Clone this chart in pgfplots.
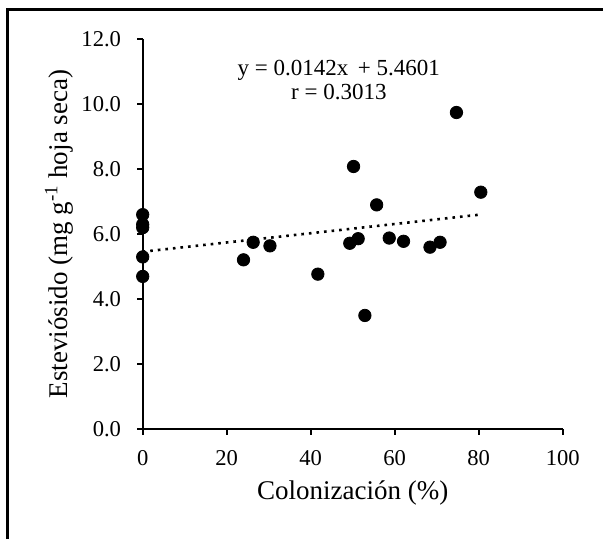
\documentclass[border=0pt]{standalone}
\usepackage{fontspec}
\setmainfont{Liberation Serif}
\usepackage{pgfplots}
\pgfplotsset{compat=1.18}

\begin{document}
\begin{tikzpicture}
\begin{axis}[
  at={(0,0)}, anchor=south west,
  scale only axis, width=210pt, height=195.15pt,
  xmin=0, xmax=100, ymin=0, ymax=12,
  axis x line=bottom, axis y line=left,
  axis line style={-, line width=0.9pt},
  tick align=outside, major tick length=2.8pt,
  tick style={line width=0.9pt, black},
  xtick={0,20,...,100}, ytick={0,2,...,12},
  /pgf/number format/assume math mode=true,
  ticklabel style={font=\fontsize{11.3}{13}\selectfont},
  xticklabel style={yshift=-4.5pt},
  yticklabel style={xshift=-4.5pt, /pgf/number format/.cd, fixed, fixed zerofill, precision=1},
  xlabel={Colonización (\%)},
  ylabel={Esteviósido (mg g\textsuperscript{-1} hoja seca)},
  label style={font=\fontsize{13.5}{15}\selectfont},
  xlabel style={yshift=-0.5pt},
  ylabel style={yshift=-3pt},
  clip=false,
]
% puntos observados
\addplot[only marks, mark=*, mark size=3.1pt, black] coordinates {
  (0,6.6) (0,6.3) (0,6.2) (0,5.3) (0,4.7)
  (24.0,5.21) (26.3,5.75) (30.3,5.64) (41.7,4.77)
  (49.3,5.72) (50.2,8.08) (51.3,5.86) (52.9,3.50)
  (55.7,6.90) (58.7,5.88) (62.1,5.78) (68.4,5.60)
  (70.8,5.75) (74.7,9.74) (80.5,7.29)
};
% linea de tendencia
\addplot[black, line width=1.3pt, dash pattern=on 1.3pt off 2.5pt] coordinates {
  (0,5.4601) (80.7,6.6060)
};
\node[align=center, font=\fontsize{11.5}{12.3}\selectfont] at (axis cs:46.7,10.74)
  {y = 0.0142x\, + 5.4601\\ r = 0.3013};
\end{axis}
\draw[line width=1.5pt] (-67.35pt,-54.85pt) -- (-67.35pt,209.65pt) -- (230.15pt,209.65pt);
\pgfresetboundingbox
\path[use as bounding box] (-71.35pt,-54.85pt) rectangle (230.15pt,214.65pt);
\end{tikzpicture}
\end{document}
